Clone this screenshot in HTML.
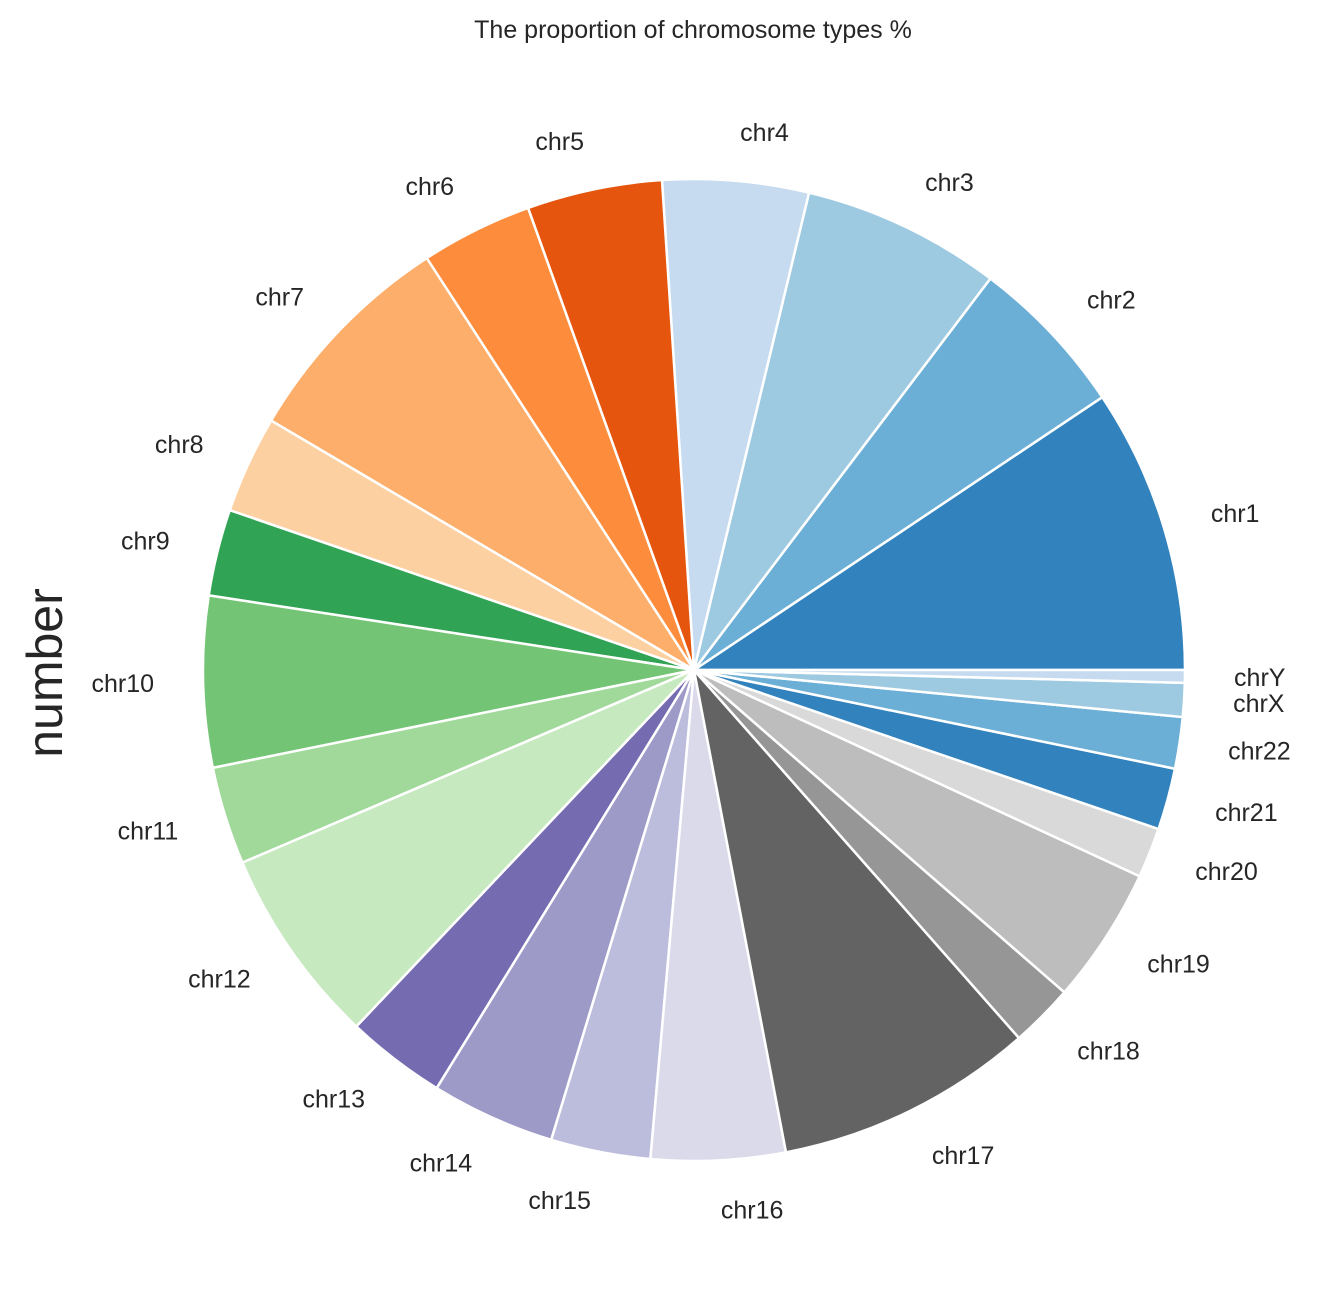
<!DOCTYPE html>
<html><head><meta charset="utf-8"><style>
html,body{margin:0;padding:0;background:#fff;}
svg{display:block;font-family:"Liberation Sans","DejaVu Sans",sans-serif;}
</style></head><body>
<svg id="chart" width="1329" height="1306" viewBox="0 0 1329 1306">
<text x="693" y="38" text-anchor="middle" font-size="25" fill="#262626">The proportion of chromosome types %</text>
<text transform="translate(62,673) rotate(-90)" text-anchor="middle" font-size="50" fill="#262626">number</text>
<g id="slices"></g>
<g id="labels"></g>
</svg>
<script>
const categories = ["chr1","chr2","chr3","chr4","chr5","chr6","chr7","chr8","chr9","chr10","chr11","chr12","chr13","chr14","chr15","chr16","chr17","chr18","chr19","chr20","chr21","chr22","chrX","chrY"];
const values = [33.75,19.12,23.58,17.29,16.02,13.22,26.49,11.53,10.26,20.24,11.6,23.46,11.84,14.7,11.8,15.9,30.65,7.52,16.19,5.94,7.3,6.1,4.0,1.5];
const colors = ["#3182bd","#6baed6","#9ecae1","#c6dbef","#e6550d","#fd8d3c","#fdae6b","#fdd0a2","#31a354","#74c476","#a1d99b","#c7e9c0","#756bb1","#9e9ac8","#bcbddc","#dadaeb","#636363","#969696","#bdbdbd","#d9d9d9","#3182bd","#6baed6","#9ecae1","#c6dbef"];
const cx=694, cy=670, R=491;
const NS="http://www.w3.org/2000/svg";
const total=values.reduce((a,b)=>a+b,0);
const sg=document.getElementById('slices'), lg=document.getElementById('labels');
function pt(a,r){const t=a*Math.PI/180;return [cx+r*Math.cos(t), cy-r*Math.sin(t)];}
let start=0;
values.forEach((v,i)=>{
  const sweep=v/total*360, end=start+sweep;
  const [x1,y1]=pt(start,R),[x2,y2]=pt(end,R);
  const p=document.createElementNS(NS,'path');
  p.setAttribute('d',`M${cx},${cy} L${x1},${y1} A${R},${R} 0 ${sweep>180?1:0} 0 ${x2},${y2} Z`);
  p.setAttribute('fill',colors[i]);
  p.setAttribute('stroke','#fff');
  p.setAttribute('stroke-width','2.5');
  p.setAttribute('stroke-linejoin','round');
  
  
  sg.appendChild(p);
  const mid=start+sweep/2;
  const [lx,ly]=pt(mid,R*1.1);
  const t=document.createElementNS(NS,'text');
  t.setAttribute('x',lx);t.setAttribute('y',ly+9);
  t.setAttribute('font-size','25');t.setAttribute('fill','#262626');
  t.setAttribute('text-anchor',(lx>=cx)?'start':'end');
  t.textContent=categories[i];
  
  
  lg.appendChild(t);
  start=end;
});
</script>
</body></html>
